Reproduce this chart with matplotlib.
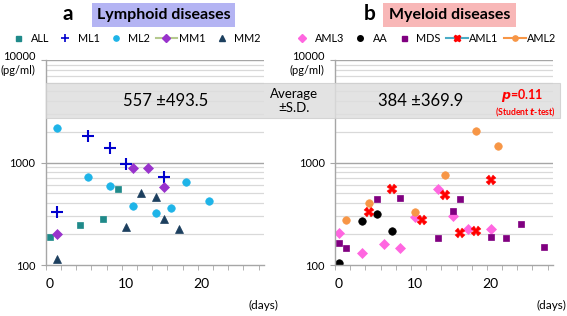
import numpy as np
import matplotlib
matplotlib.use('Agg')
import matplotlib.pyplot as plt
from matplotlib.patches import Rectangle
from matplotlib.lines import Line2D

plt.rcParams['font.family'] = ['Lato', 'DejaVu Sans']

# ---- panel a : lymphoid diseases ----
all_days = [0, 4, 7, 9]
all_vals = [186, 244, 281, 555]
ml1_days = [1, 5, 8, 10, 15]
ml1_vals = [329, 1815, 1374, 966, 718]
ml2_days = [1, 5, 8, 11, 14, 16, 18, 21]
ml2_vals = [2160, 718, 590, 377, 319, 362, 646, 418]
mm1_days = [1, 11, 13, 15]
mm1_vals = [201, 877, 877, 577]
mm2_days = [1, 10, 12, 14, 15, 17]
mm2_vals = [114, 233, 501, 464, 279, 223]

# ---- panel b : myeloid diseases ----
aml3_days = [0, 3, 6, 8, 10, 13, 15, 17, 20]
aml3_vals = [203, 132, 162, 146, 291, 552, 298, 227, 227]
aa_days = [0, 3, 5, 7]
aa_vals = [104, 270, 318, 215]
mds_days = [0, 1, 5, 8, 13, 15, 16, 20, 22, 24, 27]
mds_vals = [165, 148, 436, 454, 184, 339, 444, 188, 184, 250, 151]
aml1_days = [4, 7, 11, 14, 16, 18, 20]
aml1_vals = [328, 552, 276, 485, 206, 215, 676]
aml2_days = [1, 4, 10, 14, 18, 21]
aml2_vals = [276, 399, 326, 757, 2027, 1436]

mean_sd_a = '557 \u00b1493.5'
mean_sd_b = '384 \u00b1369.9'

W, H = 567, 316
fig = plt.figure(figsize=(W / 100, H / 100), dpi=100)


def fx(px):
    return px / W


def fy(py):
    return 1 - py / H


def setup(ax):
    ax.set_yscale('log')
    ax.set_ylim(100, 10000)
    ax.set_xlim(-0.5, 28.2)
    for s in ['top', 'right']:
        ax.spines[s].set_visible(False)
    for s in ['left', 'bottom']:
        ax.spines[s].set_color('#a6a6a6')
        ax.spines[s].set_linewidth(1.0)
    ax.set_yticks([100, 1000, 10000])
    ax.set_yticklabels(['100', '1000', ''])
    ax.set_yticks([], minor=True)
    ax.tick_params(axis='y', which='major', length=3.5, color='#a6a6a6',
                   labelsize=8, pad=4)
    minor_lines = [v * d for d in (100, 1000) for v in range(2, 10)]
    for v in minor_lines:
        ax.axhline(v, color='#d9d9d9', lw=0.9, zorder=0)
    for v in (1000, 10000):
        ax.axhline(v, color='#a6a6a6', lw=1.0, zorder=0)
    ax.set_xticks([0, 10, 20])
    ax.set_xticks(np.arange(-0.5, 28, 2), minor=True)
    ax.tick_params(axis='x', which='major', length=0, labelsize=10, pad=9)
    ax.tick_params(axis='x', which='minor', length=3.5, color='#a6a6a6')
    ax.text(-0.047, 1.015, '10000', transform=ax.transAxes, ha='right',
            va='center', fontsize=8)
    ax.text(-0.047, 0.95, '(pg/ml)', transform=ax.transAxes, ha='right',
            va='center', fontsize=8)


ax1 = fig.add_axes([fx(45.7), fy(265), fx(264 - 45.7), (265 - 60) / H])
ax2 = fig.add_axes([fx(335), fy(265), fx(553 - 335), (265 - 60) / H])
setup(ax1)
setup(ax2)

ax1.plot(all_days, all_vals, 's', color='#1f8a8a', ms=5, mew=0.5, ls='none')
ax1.plot(ml1_days, ml1_vals, '+', color='#0000cd', ms=8, mew=1.5, ls='none')
ax1.plot(ml2_days, ml2_vals, 'o', color='#1eb4e8', ms=5.4, mew=0.5, ls='none')
ax1.plot(mm1_days, mm1_vals, 'D', color='#9933cc', ms=4.6, mew=0.5, ls='none')
ax1.plot(mm2_days, mm2_vals, '^', color='#1c3f5e', ms=6, mew=0.5, ls='none')

ax2.plot(aml3_days, aml3_vals, 'D', color='#ff66e0', ms=4.6, mew=0.5, ls='none')
ax2.plot(aa_days, aa_vals, 'o', color='black', ms=5.4, mew=0.5, ls='none')
ax2.plot(mds_days, mds_vals, 's', color='#800080', ms=5, mew=0.5, ls='none')
ax2.plot(aml1_days, aml1_vals, 'X', color='#ff0000', ms=6.5, mew=0.3, ls='none')
ax2.plot(aml2_days, aml2_vals, 'o', color='#f79646', ms=5.4, mew=0.5, ls='none')

h = [Line2D([], [], ls='none', marker='s', color='#1f8a8a', ms=3.6, label='ALL'),
     Line2D([], [], ls='none', marker='+', color='#0000cd', ms=5.5, mew=1.2, label='ML1'),
     Line2D([], [], ls='none', marker='o', color='#1eb4e8', ms=3.8, label='ML2'),
     Line2D([], [], color='#b5c98e', lw=1.5, marker='D', mfc='#9933cc', mec='#9933cc', ms=3.6, label='MM1'),
     Line2D([], [], ls='none', marker='^', color='#1c3f5e', ms=4.2, label='MM2')]
g = [Line2D([], [], ls='none', marker='D', color='#ff66e0', ms=3.6, label='AML3'),
     Line2D([], [], ls='none', marker='o', color='black', ms=4, label='AA'),
     Line2D([], [], ls='none', marker='s', color='#800080', ms=3.6, label='MDS'),
     Line2D([], [], color='#4bacc6', lw=1.5, marker='X', mfc='#ff0000', mec='#ff0000', ms=5, label='AML1'),
     Line2D([], [], color='#f79646', lw=1.5, marker='o', ms=3.8, label='AML2')]

leg_kw = dict(loc='center', ncol=5, frameon=False, fontsize=7.8, handlelength=2.0,
              handletextpad=0.15, columnspacing=0.5, borderpad=0, borderaxespad=0)
fig.legend(handles=h, bbox_to_anchor=(fx(134), fy(38)), **leg_kw)
fig.legend(handles=g, bbox_to_anchor=(fx(424), fy(38)), **leg_kw)

# x axis unit
fig.text(fx(278), fy(305), '(days)', ha='right', va='center', fontsize=8.5)
fig.text(fx(566), fy(305), '(days)', ha='right', va='center', fontsize=8.5)

# panel titles
fig.text(fx(68), fy(14), 'a', ha='center', va='center', fontsize=15, fontweight='bold')
fig.text(fx(370), fy(14), 'b', ha='center', va='center', fontsize=15, fontweight='bold')
fig.patches.append(Rectangle((fx(92), fy(27)), fx(235 - 92), 24 / H, transform=fig.transFigure,
                             facecolor='#b4b4f3', edgecolor='none'))
fig.patches.append(Rectangle((fx(383), fy(27)), fx(516 - 383), 24 / H, transform=fig.transFigure,
                             facecolor='#f8b7b7', edgecolor='none'))
fig.text(fx(163.5), fy(15), 'Lymphoid diseases', ha='center', va='center', fontsize=11.5, fontweight='bold')
fig.text(fx(449.5), fy(15), 'Myeloid diseases', ha='center', va='center', fontsize=11.5, fontweight='bold')

# average band
band = Rectangle((fx(45.7), fy(118)), fx(560 - 45.7), 35 / H, transform=fig.transFigure,
                 facecolor='#dedede', edgecolor='#cfcfcf', lw=0.8, alpha=0.85, zorder=1)
fig.patches.append(band)
fig.text(fx(166), fy(101), mean_sd_a, ha='center', va='center', fontsize=12, zorder=2)
fig.text(fx(421), fy(101), mean_sd_b, ha='center', va='center', fontsize=12, zorder=2)
fig.text(fx(294), fy(101), 'Average\n\u00b1S.D.', ha='center', va='center', fontsize=9.5,
         linespacing=1.15, zorder=2)
fig.text(fx(522), fy(95), r'$\mathbfit{p}$' + '=0.11', ha='center', va='center', fontsize=9,
         fontweight='bold', color='#ff0000', zorder=2)
fig.text(fx(525), fy(112), '(Student ' + r'$\mathbfit{t}$' + '-test)', ha='center', va='center',
         fontsize=6.2, fontweight='bold', color='#ff0000', zorder=2)

fig.savefig('out.png', dpi=100)
